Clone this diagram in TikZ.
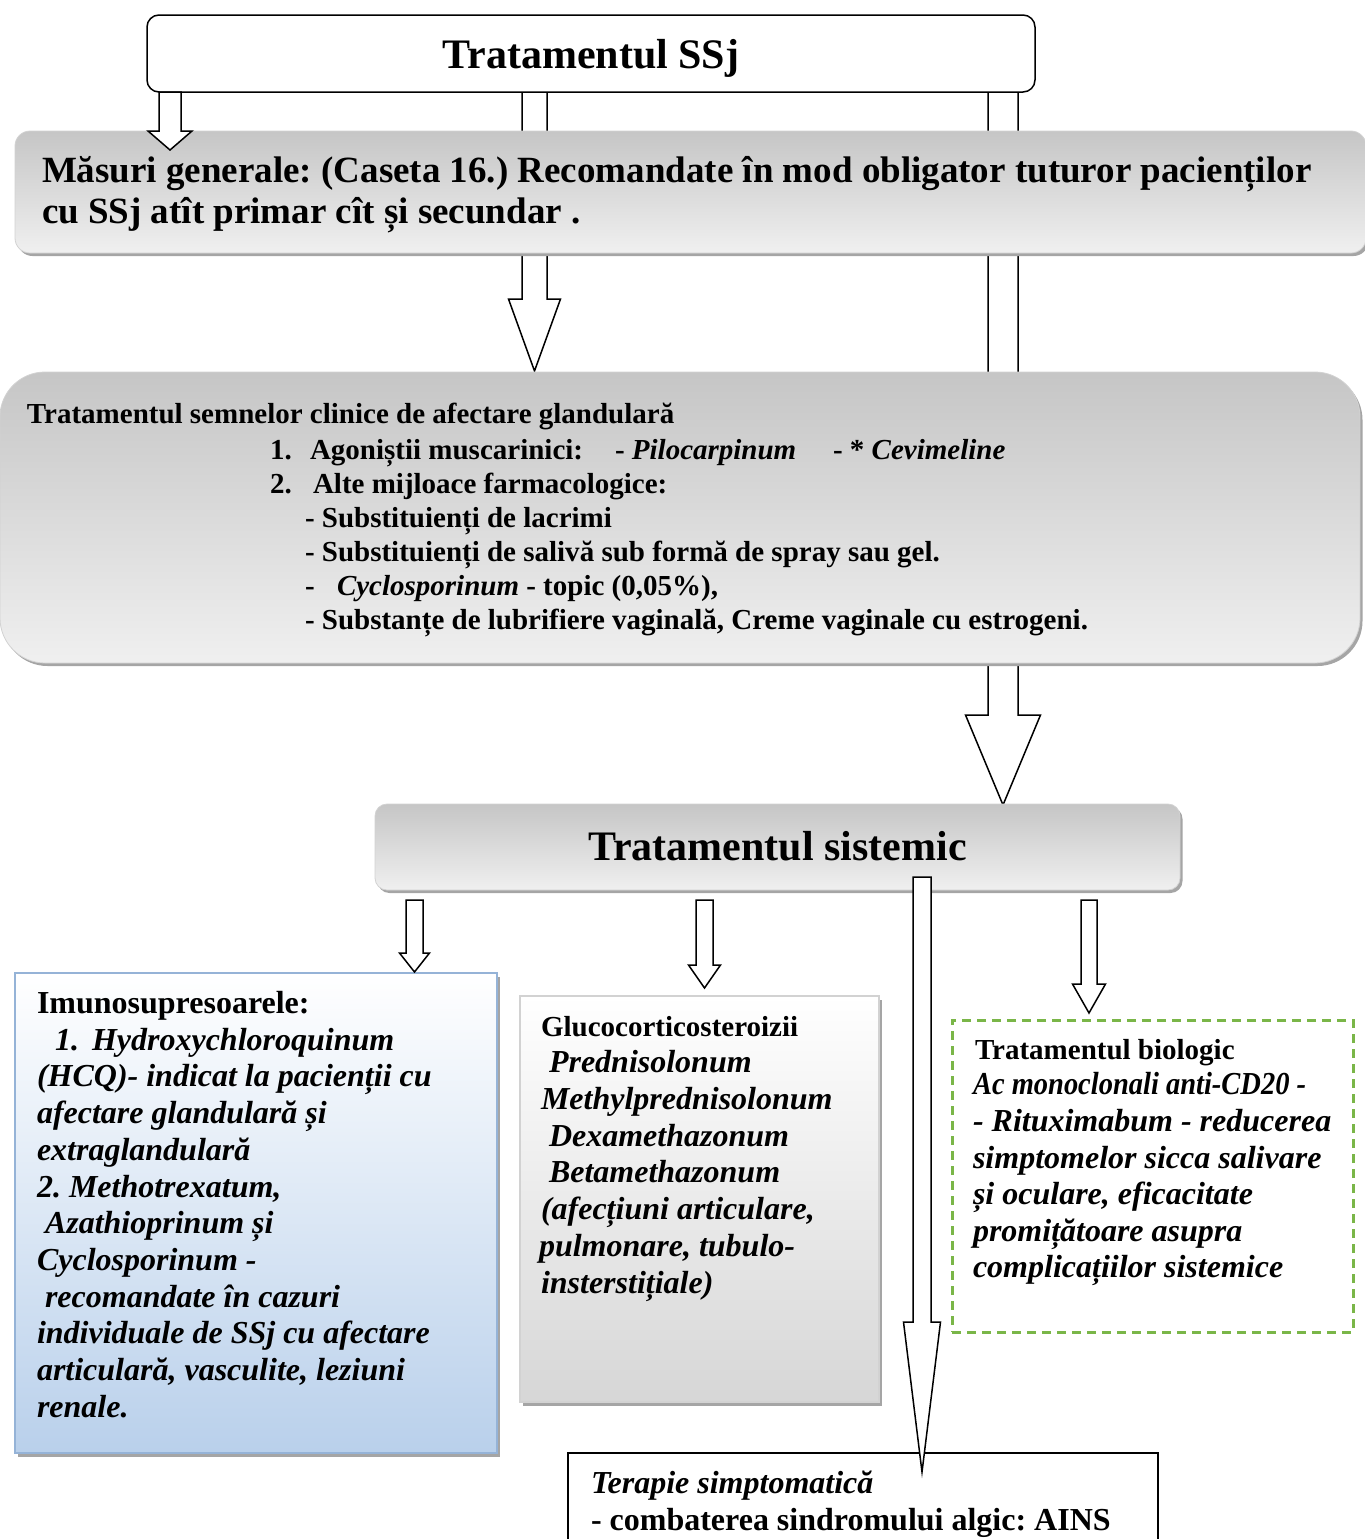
\documentclass[tikz,border=0pt]{standalone}
\usepackage{fontspec}
\setmainfont{Liberation Serif}
\usetikzlibrary{calc,shadows}
\definecolor{blueB}{RGB}{149,179,215}
\definecolor{blueF}{RGB}{185,208,235}
\definecolor{greenD}{RGB}{122,182,72}
\definecolor{shadowG}{RGB}{165,165,165}
\newcommand\blockarr[5]{%
  \draw[barrow] ($(#1)+(-#4,0)$) -- ($(#2)+(-#4,-#3)$) -- ($(#2)+(-#5,-#3)$) -- (#2)
    -- ($(#2)+(#5,-#3)$) -- ($(#2)+(#4,-#3)$) -- ($(#1)+(#4,0)$) -- cycle;}
\tikzset{
  barrow/.style={draw=black, fill=white, line width=1.5pt, line join=miter},
  boxbase/.style={anchor=north west, inner sep=0pt, outer sep=0pt},
  graybox/.style={boxbase, draw=gray!35, line width=0.8pt, top color=gray!45, bottom color=gray!12,
     drop shadow={shadow xshift=2.5pt, shadow yshift=-3pt, fill=shadowG, opacity=1}},
  t/.style={anchor=base west, inner sep=0pt, outer sep=0pt},
  ttl/.style={inner sep=0pt, anchor=base, font=\fontsize{42}{48}\selectfont\bfseries},
  mg/.style={t, font=\fontsize{37}{42}\selectfont\bfseries},
  sg/.style={t, font=\fontsize{29}{34}\selectfont\bfseries},
  bi/.style={t, font=\fontsize{32}{36}\selectfont\bfseries\itshape},
  bu/.style={t, font=\fontsize{32}{36}\selectfont\bfseries},
}
\frenchspacing
\begin{document}
\begin{tikzpicture}[x=1pt,y=-1pt]
\useasboundingbox (0,0) rectangle (1365,1539);
% arrow coordinates
\coordinate (mAs) at (534.5,92);  \coordinate (mAt) at (534.5,371);
\coordinate (rAs) at (1003,92);   \coordinate (rAt) at (1003,805);
\coordinate (lAs) at (170,92);    \coordinate (lAt) at (170,150);
\coordinate (longs) at (922,877); \coordinate (longt) at (922,1472);
\coordinate (s1s) at (414.5,900); \coordinate (s1t) at (414.5,972);
\coordinate (s2s) at (704.5,900); \coordinate (s2t) at (704.5,988);
\coordinate (s4s) at (1089,900);  \coordinate (s4t) at (1089,1013);
% arrows behind boxes
\blockarr{mAs}{mAt}{72}{12.5}{26}
\blockarr{rAs}{rAt}{90}{15}{37.5}
% boxes
\node[boxbase, draw=black, fill=white, line width=1.5pt, rounded corners=12pt,
      minimum width=888pt, minimum height=77pt] (title) at (147,15) {};
\node[graybox, rounded corners=15pt, minimum width=1351pt, minimum height=122pt] (masuri) at (15,131) {};
\node[graybox, rounded corners=45pt, minimum width=1360pt, minimum height=291pt] (semne) at (0,372) {};
\node[graybox, rounded corners=12pt, minimum width=805pt, minimum height=86pt] (sist) at (375,804) {};
% lower boxes
\node[boxbase, draw=blueB, line width=2pt, top color=white, bottom color=blueF,
      drop shadow={shadow xshift=3pt, shadow yshift=-4pt, fill=shadowG, opacity=1},
      minimum width=482pt, minimum height=480pt] (imuno) at (15,973) {};
\node[boxbase, draw=gray!35, line width=1.5pt, top color=white, bottom color=gray!32,
      drop shadow={shadow xshift=3pt, shadow yshift=-4pt, fill=shadowG, opacity=1},
      minimum width=359pt, minimum height=406pt] (gluco) at (520,996) {};
\node[boxbase, draw=greenD, line width=3pt, dash pattern=on 9pt off 6pt, fill=white,
      minimum width=401pt, minimum height=312pt] (bio) at (952,1020) {};
\node[boxbase, draw=black, line width=1.5pt, fill=white,
      minimum width=590pt, minimum height=110pt] (terap) at (568,1453) {};
% arrows on top
\blockarr{lAs}{lAt}{19}{11}{22}
\blockarr{longs}{longt}{150}{9}{18.5}
\blockarr{s1s}{s1t}{19}{8.5}{15}
\blockarr{s2s}{s2t}{23}{8.5}{16}
\blockarr{s4s}{s4t}{29}{8}{16.5}
% texts
\node[ttl] (ttltxt) at (591,68) {Tratamentul SSj};
\node[ttl] (sisttxt) at (777.5,860) {Tratamentul sistemic};
\node[mg] (mg1) at (42,182.5) {Măsuri generale: (Caseta 16.) Recomandate în mod obligator tuturor pacienților};
\node[mg] (mg2) at (42,223) {cu SSj atît primar cît și secundar .};
% semnelor
\node[sg] (sg1) at (27,423.5) {Tratamentul semnelor clinice de afectare glandulară};
\node[sg] (sg2a) at (270,459) {1.};
\node[sg] (sg2b) at (310,459) {Agoniștii muscarinici:};
\node[sg] (sg2c) at (615,459) {- \textit{Pilocarpinum}};
\node[sg] (sg2d) at (833,459) {- * \textit{Cevimeline}};
\node[sg] (sg3a) at (270,493) {2.};
\node[sg] (sg3b) at (313,493) {Alte mijloace farmacologice:};
\node[sg] (sg4) at (305,527) {- Substituienți de lacrimi};
\node[sg] (sg5) at (305,561.5) {- Substituienți de salivă sub formă de spray sau gel.};
\node[sg] (sg6a) at (305,595.5) {-};
\node[sg] (sg6b) at (337,595.5) {\textit{Cyclosporinum} - topic (0,05\%),};
\node[sg] (sg7) at (305,629.5) {- Substanțe de lubrifiere vaginală, Creme vaginale cu estrogeni.};
% imuno
\node[bu] (im0) at (37,1013.5) {Imunosupresoarele:};
\node[bi] (im1a) at (55,1050.2) {1.};
\node[bi] (im1b) at (92,1050.2) {Hydroxychloroquinum};
\node[bi] (im2) at (37,1086.9) {(HCQ)- indicat la pacienții cu};
\node[bi] (im3) at (37,1123.6) {afectare glandulară și};
\node[bi] (im4) at (37,1160.3) {extraglandulară};
\node[bi] (im5) at (37,1197) {2. Methotrexatum,};
\node[bi] (im6) at (45,1233.7) {Azathioprinum și};
\node[bi] (im7) at (37,1270.4) {Cyclosporinum -};
\node[bi] (im8) at (45,1307.1) {recomandate în cazuri};
\node[bi] (im9) at (37,1343.8) {individuale de SSj cu afectare};
\node[bi] (im10) at (37,1380.5) {articulară, vasculite, leziuni};
\node[bi] (im11) at (37,1417.2) {renale.};
% gluco
\node[sg] (gl0) at (541,1036) {Glucocorticosteroizii};
\node[bi] (gl1) at (549,1072) {Prednisolonum};
\node[bi] (gl2) at (541,1109) {Methylprednisolonum};
\node[bi] (gl3) at (549,1146) {Dexamethazonum};
\node[bi] (gl4) at (549,1182) {Betamethazonum};
\node[bi] (gl5) at (541,1219) {(afecțiuni articulare,};
\node[bi] (gl6) at (539,1256) {pulmonare, tubulo-};
\node[bi] (gl7) at (541,1293) {insterstițiale)};
% bio
\node[sg] (bi0) at (975,1059) {Tratamentul biologic};
\node[bi] (bi1) at (973,1094) {\scalebox{0.89}[1]{Ac monoclonali anti-CD20 -}};
\node[bi] (bi2) at (973,1131) {- Rituximabum - reducerea};
\node[bi] (bi3) at (973,1168) {simptomelor sicca salivare};
\node[bi] (bi4) at (973,1204) {și oculare, eficacitate};
\node[bi] (bi5) at (973,1241) {promițătoare asupra};
\node[bi] (bi6) at (973,1277) {complicațiilor sistemice};
% terapie
\node[bi] (te1) at (591,1493) {Terapie simptomatică};
\node[bu] (te2) at (591,1530) {- combaterea sindromului algic: AINS};
\end{tikzpicture}
\end{document}
